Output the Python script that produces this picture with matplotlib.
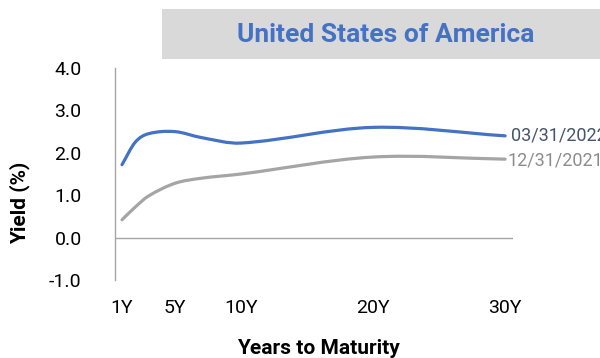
import matplotlib

matplotlib.use("Agg")
import matplotlib.pyplot as plt
import numpy as np
from matplotlib.path import Path
from matplotlib.patches import PathPatch, Rectangle

plt.rcParams["font.family"] = ["Roboto", "DejaVu Sans"]

# Treasury yield curves (%)
tenors = [1, 2, 3, 5, 7, 10, 20, 30]
yield_mar22 = [1.72, 2.25, 2.45, 2.50, 2.36, 2.23, 2.60, 2.40]
yield_dec21 = [0.42, 0.72, 0.98, 1.28, 1.40, 1.50, 1.90, 1.85]
series_labels = ["03/31/2022", "12/31/2021"]
x_ticks = [1, 5, 10, 20, 30]
x_tick_labels = ["1Y", "5Y", "10Y", "20Y", "30Y"]
y_ticks = [-1.0, 0.0, 1.0, 2.0, 3.0, 4.0]


def smooth_path(xs, ys):
    """Cubic Bezier path through the points (Hermite tangents)."""
    xs = np.asarray(xs, float)
    ys = np.asarray(ys, float)
    n = len(xs)
    m = np.empty(n)
    for i in range(n):
        a = max(i - 1, 0)
        b = min(i + 1, n - 1)
        m[i] = (ys[b] - ys[a]) / (xs[b] - xs[a])
    verts = [(xs[0], ys[0])]
    codes = [Path.MOVETO]
    for i in range(n - 1):
        dx = (xs[i + 1] - xs[i]) / 3.0
        verts += [(xs[i] + dx, ys[i] + m[i] * dx),
                  (xs[i + 1] - dx, ys[i + 1] - m[i + 1] * dx),
                  (xs[i + 1], ys[i + 1])]
        codes += [Path.CURVE4] * 3
    return Path(verts, codes)


fig = plt.figure(figsize=(6.0, 3.58), dpi=100)
ax = fig.add_axes([0.1917, 0.2179, 0.855 - 0.1917, 0.810 - 0.2179])

for ys, color in [(yield_dec21, "#a5a5a5"), (yield_mar22, "#4472c4")]:
    ax.add_patch(PathPatch(smooth_path(tenors, ys), facecolor="none",
                           edgecolor=color, linewidth=2.3, capstyle="round",
                           clip_on=False))

ax.text(30.45, yield_mar22[-1], series_labels[0], color="#44546a",
        fontsize=13, va="center", ha="left", clip_on=False)
ax.text(30.15, yield_dec21[-1] - 0.04, series_labels[1], color="#8c8c8c",
        fontsize=13, va="center", ha="left", clip_on=False)

ax.set_xlim(0.47, 30.6)
ax.set_ylim(-1.0, 4.0)
ax.axhline(0, color="#a6a6a6", linewidth=1.0)
for s in ["top", "right", "bottom"]:
    ax.spines[s].set_visible(False)
ax.spines["left"].set_color("#a6a6a6")
ax.spines["left"].set_linewidth(1.0)

ax.set_xticks(x_ticks)
ax.set_xticklabels(x_tick_labels)
ax.set_yticks(y_ticks)
ax.set_yticklabels([f"{v:.1f}" for v in y_ticks])
ax.tick_params(axis="both", length=0, labelsize=14, colors="black")
ax.tick_params(axis="x", pad=14)
ax.tick_params(axis="y", pad=24)

fig.text(20 / 600, 1 - 203 / 358, "Yield (%)", fontsize=15, fontweight="bold",
         rotation=90, ha="center", va="center")
fig.text(318 / 600, 1 - 348 / 358, "Years to Maturity", fontsize=15,
         fontweight="bold", ha="center", va="center")

# title banner
fig.patches.append(Rectangle((162 / 600, 1 - 59 / 358), 1.0, 50 / 358,
                             transform=fig.transFigure, facecolor="#d9d9d9",
                             edgecolor="none", zorder=0))
fig.text(386 / 600, 1 - 35 / 358, "United States of America", fontsize=19,
         fontweight="bold", color="#4472c4", ha="center", va="center")

fig.savefig("out.png", dpi=100)
